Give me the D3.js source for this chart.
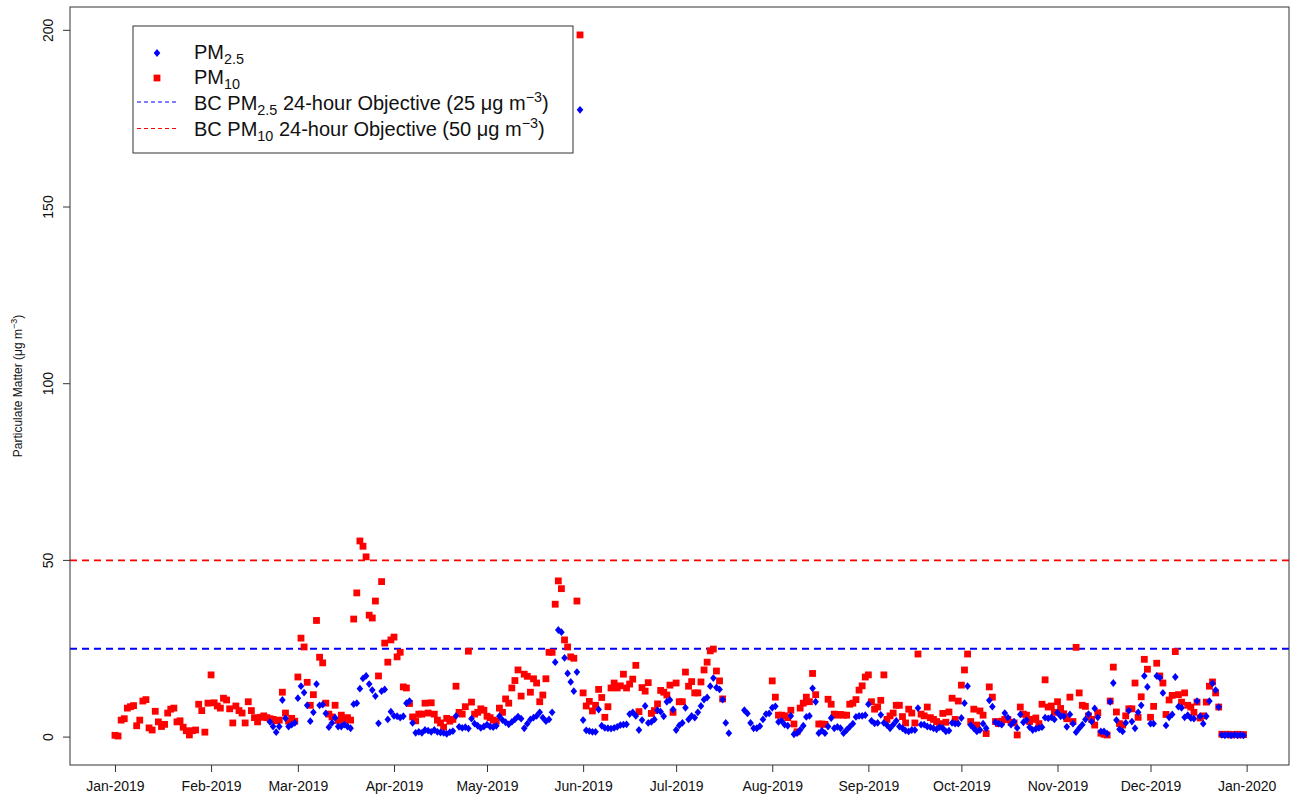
<!DOCTYPE html>
<html>
<head>
<meta charset="utf-8">
<script src="https://cdn.jsdelivr.net/npm/d3@7"></script>
<style>
  html, body { margin: 0; padding: 0; background: #fff; }
  svg { display: block; font-family: "Liberation Sans", Arial, sans-serif; }
</style>
</head>
<body>
<svg id="chart" width="1297" height="802"></svg>
<script>
// ---------------- DATA ----------------
// Daily PM10 (µg/m3), starting 2019-01-01; null = missing
const pm10Start = "2019-01-01";
const pm10Values = [
  0.5, 0.3, 4.8, 5.2, 8.2, 8.6, 8.9, 3.2, 4.8, 10.2,
  10.6, 2.6, 2.0, 7.3, 4.3, 3.0, 3.6, 6.8, 7.9, 8.2,
  4.3, 4.6, 2.8, 1.8, 0.6, 1.8, 2.0, 9.3, 7.5, 1.4,
  9.6, 17.6, 9.7, 8.8, 8.2, 11.0, 10.5, 8.0, 4.0, 8.8,
  7.5, 6.8, 4.0, 10.0, 7.5, 5.5, 4.3, 5.6, 6.0, 5.5,
  5.2, 5.0, 4.6, 4.8, 12.7, 6.8, 4.5, 5.3, 4.5, 17.0,
  28.0, 25.5, 15.5, 9.0, 12.0, 33.0, 22.6, 21.0, 9.6, 6.5,
  5.7, 9.0, 4.7, 6.2, 4.8, 5.5, 4.8, 33.4, 40.8, 55.5,
  54.0, 51.0, 34.5, 33.7, 38.5, 17.3, 44.0, 26.6, 21.2, 27.5,
  28.3, 22.7, 24.0, 14.2, 13.9, 9.5, 5.7, 4.6, 6.5, 6.5,
  9.6, 6.8, 9.7, 6.5, 4.8, 4.0, 2.8, 5.3, 4.5, 5.0,
  14.4, 7.0, 6.5, 8.6, 24.3, 9.9, 6.5, 7.0, 8.0, 7.6,
  5.9, 5.5, 4.8, 4.5, 8.2, 7.0, 10.8, 9.6, 13.9, 16.0,
  19.0, 11.6, 17.8, 17.2, 12.7, 16.5, 15.3, 10.0, 11.9, 16.5,
  24.0, 24.0, 37.6, 44.2, 42.0, 27.5, 25.5, 22.7, 22.3, 38.5,
  198.7, 12.5, 8.8, 10.1, 7.4, 9.0, 13.5, 11.2, 5.6, 8.6,
  13.9, 15.3, 13.9, 14.5, 17.8, 13.9, 15.0, 16.4, 20.3, 7.2,
  14.0, 13.0, 15.4, 6.7, 7.5, 9.4, 13.2, 12.7, 11.9, 14.7,
  7.0, 15.3, 10.0, 10.0, 18.4, 14.4, 15.7, 12.5, 12.5, 15.6,
  19.0, 21.2, 24.4, 24.9, 18.7, 15.9, 10.8, null, null, null,
  null, null, null, null, null, null, null, null, null, null,
  null, null, 15.9, 11.3, 6.2, 6.2, 6.0, 5.5, 7.6, 3.7,
  1.5, 8.2, 9.6, 11.3, 10.0, 18.0, 12.0, 3.7, 3.7, 3.6,
  10.7, 9.3, 6.5, 6.2, 6.4, 6.2, 6.2, 9.3, 9.6, 10.6,
  13.3, 14.5, 17.0, 17.6, 10.0, 7.9, 8.5, 10.4, 17.6, 5.0,
  6.0, 6.8, 9.0, 9.0, 5.8, 4.0, 7.9, 6.8, 4.0, 23.5,
  6.5, 6.0, 8.5, 5.5, 5.0, 4.4, 3.8, 6.7, 4.2, 7.1,
  11.0, 5.0, 10.2, 14.7, 19.0, 23.5, 4.4, 7.9, 3.4, 7.4,
  6.2, 1.0, 14.2, 11.3, 4.4, 3.8, 4.5, 5.0, 5.0, 4.2,
  4.0, 0.6, 8.5, 6.5, 6.2, 4.4, 5.0, 5.4, 3.8, 9.3,
  16.2, 8.5, 8.8, 7.0, 10.0, 8.1, 6.6, 5.2, 11.3, 4.4,
  25.4, 12.5, 9.0, 8.7, 6.0, 5.0, 3.4, 6.9, 1.1, 0.8,
  0.6, 10.2, 19.8, 7.1, 3.8, 3.4, 6.0, 8.0, 8.0, 15.3,
  5.6, 11.4, 22.0, 19.2, 5.6, 8.7, 20.9, 17.3, 15.3, 6.4,
  10.5, 11.8, 24.2, 12.0, 9.9, 12.5, 9.0, 8.5, 7.0, 9.9,
  5.4, 6.0, 9.9, 14.4, 15.6, 12.5, 8.5, 0.8, 0.7, 0.8,
  0.6, 0.7, 0.8, 0.6, 0.7
];

// Daily PM2.5 (µg/m3), starting 2019-02-20; null = missing
const pm25Start = "2019-02-20";
const pm25Values = [
  4.3, 3.0, 1.4, 3.0, 10.5, 5.3, 3.0, 3.5, 4.0, 11.0,
  14.4, 12.6, 9.0, 4.5, 7.0, 15.0, 9.0, 9.2, 6.7, 2.8,
  4.0, 5.5, 3.0, 3.0, 3.5, 3.0, 2.5, 9.3, 9.6, 13.7,
  16.6, 17.3, 15.0, 13.3, 11.6, 3.9, 13.0, 13.5, 5.0, 7.2,
  6.0, 5.9, 5.5, 5.9, 9.6, 10.2, 4.0, 1.2, 1.5, 1.2,
  2.0, 1.8, 1.5, 2.0, 1.5, 1.3, 1.2, 0.9, 1.4, 1.7,
  6.0, 2.9, 2.6, 2.8, 2.4, 5.2, 3.8, 3.2, 2.6, 3.0,
  3.5, 3.0, 2.8, 3.2, 5.9, 4.8, 4.2, 3.6, 4.3, 5.0,
  5.8, 5.2, 2.5, 3.8, 5.0, 5.5, 6.0, 7.0, 5.5, 4.5,
  5.0, 7.0, 21.2, 30.3, 29.7, 22.4, 18.0, 15.6, 13.0, 18.4,
  177.5, 4.8, 1.9, 1.7, 1.5, 1.5, 7.8, 3.2, 2.6, 2.5,
  2.4, 2.6, 2.9, 3.4, 3.5, 3.6, 6.5, 7.0, 6.0, 2.0,
  4.8, 8.8, 4.0, 4.3, 5.0, 7.6, 7.2, 5.9, 10.0, 10.5,
  7.8, 2.0, 3.3, 4.0, 8.3, 5.0, 6.0, 5.5, 7.0, 8.8,
  10.6, 11.2, 14.4, 16.7, 14.0, 13.5, 10.6, 4.0, 1.1, null,
  null, null, null, 7.6, 6.7, 4.0, 2.5, 2.5, 3.1, 5.0,
  6.5, 6.7, 8.3, 8.7, 4.3, 4.6, 3.5, 3.2, 6.0, 0.8,
  1.1, 2.0, 3.2, 5.7, 6.0, 13.8, 10.0, 1.1, 1.8, 1.1,
  3.0, 5.4, 2.5, 2.9, 2.5, 1.1, 2.0, 2.9, 3.8, 5.7,
  6.0, 6.0, 6.2, 9.3, 4.6, 3.9, 4.0, 6.3, 4.0, 3.4,
  2.5, 3.5, 4.6, 3.0, 2.5, 1.8, 1.6, 2.0, 2.0, 8.2,
  3.5, 3.5, 3.0, 2.8, 2.5, 2.2, 2.8, 2.5, 1.6, 1.8,
  4.0, 3.8, 3.8, 5.4, 9.6, 14.4, 3.4, 2.5, 1.6, 2.0,
  3.8, 2.5, 10.4, 8.6, 4.2, 3.8, 3.5, 6.8, 5.5, 3.5,
  4.4, 2.6, 6.4, 4.2, 4.8, 2.8, 2.0, 2.3, 2.6, 2.8,
  5.5, 5.3, 5.6, 5.0, 6.9, 5.9, 5.9, 2.9, 6.4, 3.8,
  1.4, 2.5, 3.5, 5.0, 6.5, 4.4, 8.1, 5.6, 1.6, 1.6,
  1.0, 10.0, 15.3, 4.8, 2.2, 1.6, 4.0, 7.5, 4.4, 2.5,
  7.0, 9.0, 17.3, 14.2, 3.8, 3.8, 17.3, 16.8, 12.5, 3.3,
  5.6, 6.4, 17.0, 8.6, 8.3, 5.6, 6.2, 5.4, 5.2, 10.2,
  5.9, 3.8, 5.9, 10.2, 15.2, 13.3, 8.5, 0.6, 0.5, 0.6,
  0.5, 0.6, 0.5, 0.6, 0.5
];

// Objectives
const objectiveLabels = ["PM2.5", "PM10"];
const objectiveValues = [25, 50];

// Axis ticks
const yTicks = [0, 50, 100, 150, 200];
const monthTickLabels = ["Jan-2019","Feb-2019","Mar-2019","Apr-2019","May-2019","Jun-2019",
  "Jul-2019","Aug-2019","Sep-2019","Oct-2019","Nov-2019","Dec-2019","Jan-2020"];

// ---------------- CHART ----------------
const svg = d3.select("#chart");
const W = 1297, H = 802;
const plot = { left: 70, right: 1289, top: 7, bottom: 765 };

const parse = d3.utcParse("%Y-%m-%d");
const base = parse("2019-01-01");
const x = d3.scaleUtc()
  .domain([d3.utcHour.offset(base, -14.5 * 24), d3.utcHour.offset(base, 378.7 * 24)])
  .range([plot.left, plot.right]);
const y = d3.scaleLinear().domain([-7.9, 206.6]).range([plot.bottom, plot.top]);

function toSeries(start, vals) {
  const s = parse(start);
  return vals.map((v, i) => ({ date: d3.utcDay.offset(s, i), value: v }))
             .filter(d => d.value !== null);
}
const pm10 = toSeries(pm10Start, pm10Values);
const pm25 = toSeries(pm25Start, pm25Values);

const BLUE = "#0000ff", RED = "#ff0000";

// background
svg.append("rect").attr("width", W).attr("height", H).attr("fill", "#fff");

// objective lines
const objColors = [BLUE, RED];
svg.selectAll("line.obj").data(objectiveValues).enter().append("line")
  .attr("class", "obj")
  .attr("x1", plot.left).attr("x2", plot.right)
  .attr("y1", d => y(d)).attr("y2", d => y(d))
  .attr("stroke", (d, i) => objColors[i])
  .attr("stroke-width", 1.8)
  .attr("stroke-dasharray", "7,5");

// PM10 squares
const sq = 6.8;
svg.append("g").selectAll("rect").data(pm10).enter().append("rect")
  .attr("x", d => x(d.date) - sq / 2)
  .attr("y", d => y(d.value) - sq / 2)
  .attr("width", sq).attr("height", sq)
  .attr("fill", RED);

// PM2.5 diamonds
const diamond = "M0,-3.9L3.3,0L0,3.9L-3.3,0Z";
svg.append("g").selectAll("path").data(pm25).enter().append("path")
  .attr("d", diamond)
  .attr("transform", d => `translate(${x(d.date)},${y(d.value)})`)
  .attr("fill", BLUE);

// frame
svg.append("rect")
  .attr("x", plot.left).attr("y", plot.top)
  .attr("width", plot.right - plot.left).attr("height", plot.bottom - plot.top)
  .attr("fill", "none").attr("stroke", "#333").attr("stroke-width", 1);

// x axis
const monthDates = d3.utcMonth.range(base, parse("2020-01-02"));
const xAxis = d3.axisBottom(x)
  .tickValues(monthDates)
  .tickFormat((d, i) => monthTickLabels[i])
  .tickSize(7).tickPadding(9);
const gx = svg.append("g").attr("transform", `translate(0,${plot.bottom})`).call(xAxis);
gx.select(".domain").remove();
gx.selectAll("line").attr("stroke", "#333");
gx.selectAll("text").attr("font-size", 14).attr("fill", "#111")
  .attr("font-family", "'Liberation Sans', Arial, sans-serif");

// y axis
const gy = svg.append("g");
const yt = gy.selectAll("g").data(yTicks).enter().append("g")
  .attr("transform", d => `translate(${plot.left},${y(d)})`);
yt.append("line").attr("x1", 0).attr("x2", -7).attr("stroke", "#333");
yt.append("text")
  .attr("transform", "translate(-17,0) rotate(-90)")
  .attr("text-anchor", "middle")
  .attr("font-size", 14).attr("fill", "#111")
  .text(d => d);

// y title
const yTitle = svg.append("text")
  .attr("transform", `translate(22,${(plot.top + plot.bottom) / 2}) rotate(-90)`)
  .attr("text-anchor", "middle")
  .attr("font-size", 12).attr("fill", "#111");
yTitle.append("tspan").text("Particulate Matter (\u03bcg m");
yTitle.append("tspan").attr("dy", -5).attr("font-size", 9).text("\u22123");
yTitle.append("tspan").attr("dy", 5).text(")");

// legend
const lg = svg.append("g");
lg.append("rect").attr("x", 133).attr("y", 26).attr("width", 440).attr("height", 127)
  .attr("fill", "#fff").attr("stroke", "#333").attr("stroke-width", 1);

const fs = 20;
const rowsY = [58.5, 84, 110, 136];
const tx = 194;
lg.append("path").attr("d", diamond).attr("transform", `translate(157,53)`).attr("fill", BLUE);
lg.append("rect").attr("x", 157 - sq / 2).attr("y", 78 - sq / 2).attr("width", sq).attr("height", sq).attr("fill", RED);
lg.append("line").attr("x1", 137).attr("x2", 176).attr("y1", 102).attr("y2", 102)
  .attr("stroke", BLUE).attr("stroke-width", 1).attr("stroke-dasharray", "4,3");
lg.append("line").attr("x1", 137).attr("x2", 176).attr("y1", 128.5).attr("y2", 128.5)
  .attr("stroke", RED).attr("stroke-width", 1).attr("stroke-dasharray", "4,3");

function legendText(yPos, parts) {
  const t = lg.append("text").attr("x", tx).attr("y", yPos).attr("font-size", fs).attr("fill", "#111");
  parts.forEach(p => {
    const s = t.append("tspan").text(p.t);
    if (p.sub) s.attr("dy", 5).attr("font-size", fs * 0.72);
    if (p.sup) s.attr("dy", -8).attr("font-size", fs * 0.72);
    if (p.back) s.attr("dy", p.back);
  });
}
legendText(rowsY[0], [{ t: "PM" }, { t: objectiveLabels[0].slice(2), sub: true }]);
legendText(rowsY[1], [{ t: "PM" }, { t: objectiveLabels[1].slice(2), sub: true }]);
legendText(rowsY[2], [{ t: "BC PM" }, { t: "2.5", sub: true },
  { t: " 24-hour Objective (" + objectiveValues[0] + " \u03bcg m", back: -5 }, { t: "\u22123", sup: true }, { t: ")", back: 8 }]);
legendText(rowsY[3], [{ t: "BC PM" }, { t: "10", sub: true },
  { t: " 24-hour Objective (" + objectiveValues[1] + " \u03bcg m", back: -5 }, { t: "\u22123", sup: true }, { t: ")", back: 8 }]);
</script>
</body>
</html>
